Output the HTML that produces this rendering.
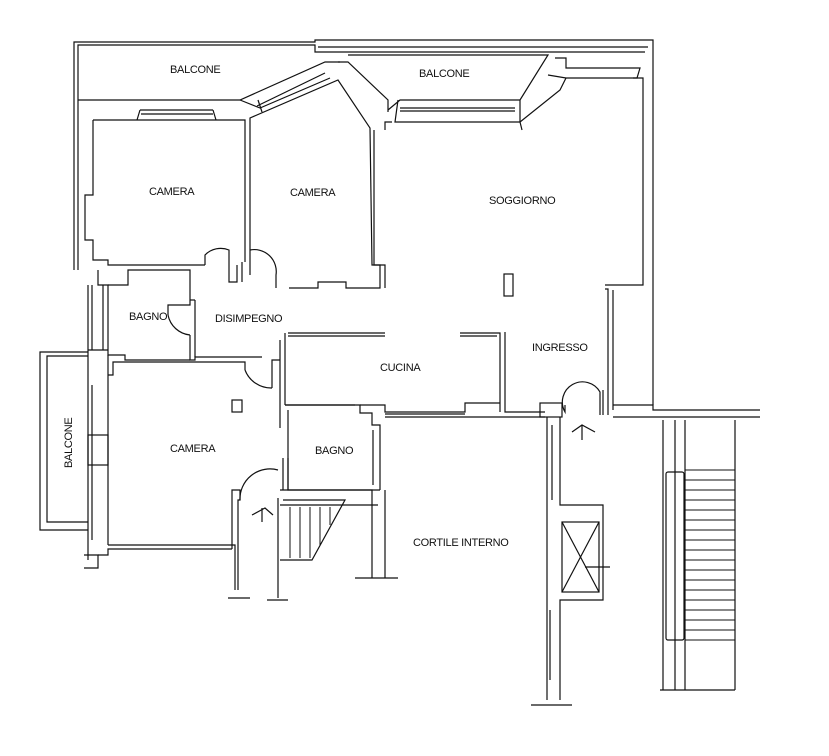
<!DOCTYPE html>
<html><head><meta charset="utf-8"><style>
html,body{margin:0;padding:0;background:#fff;}
svg{display:block}
text{font-family:"Liberation Sans",Arial,sans-serif;font-size:11px;fill:#111;letter-spacing:-0.3px}
</style></head><body>
<svg width="829" height="756" viewBox="0 0 829 756" xmlns="http://www.w3.org/2000/svg">
<g fill="none" stroke="#111" stroke-width="1.2">
<!-- top outer wall -->
<polyline points="74,270 74,42 315,42 315,40 653,40 653,405"/>
<polyline points="78,270 78,45 315,45 315,52 645,52"/>
<line x1="318" y1="47" x2="648" y2="47"/>
<!-- balcone 1 -->
<polyline points="78,100 240,100 325,62 340,62"/>
<polyline points="240,100 260,108 330,78"/>
<line x1="258" y1="100" x2="262" y2="112"/>
<line x1="257" y1="106" x2="325" y2="73"/>
<!-- camera1 -->
<polyline points="93,120 245,120 245,262"/>
<polyline points="93,120 93,195 85,195 85,240 93,240 93,260 108,260 108,265 205,265"/>
<polyline points="140,110 137,120"/><polyline points="213,110 216,120"/>
<line x1="140" y1="110" x2="213" y2="110"/><line x1="141" y1="114" x2="213" y2="114"/>
<!-- camera2 -->
<polyline points="250,275 250,118 338,80 370,128 372,265 380,265 380,288 346,288 346,282 318,282 318,288 289,288"/>
<polyline points="338,62 348,62 388,100 388,112"/>
<!-- balcone 2 -->
<polyline points="348,55 548,55 520,100 400,100 388,110"/>
<polyline points="398,100 395,122 520,122 520,100"/>
<line x1="400" y1="108" x2="515" y2="108"/><line x1="400" y1="111" x2="515" y2="111"/>
<polyline points="555,58 566,58 566,68 640,68 637,78 566,78 548,75"/>
<polyline points="566,78 560,90 520,122 522,130"/>
<!-- soggiorno -->
<polyline points="374,130 374,265 385,265 385,288"/>
<polyline points="385,130 385,122 392,122"/>
<polyline points="633,78 643,78 643,285 605,285"/>
<polyline points="605,289 608,289 608,415"/>
<line x1="613" y1="290" x2="613" y2="410"/>
<rect x="504" y="274" width="9" height="22"/>
<!-- doors disimpegno -->
<path d="M205,265 L205,255 A22,22 0 0 1 229,250 L229,282 L237,282 L237,265"/>
<path d="M250,250 A22,22 0 0 1 276,275 L276,288"/>
<line x1="242" y1="262" x2="242" y2="282"/>
<!-- bagno1 -->
<polyline points="98,270 98,285 108,285 108,355 125,355 125,360 190,360"/>
<polyline points="108,285 128,285 128,270 190,270 190,305 168,305 168,315"/>
<path d="M168,315 A25,25 0 0 0 190,335"/>
<polyline points="190,335 190,360 195,360 195,357 262,357"/>
<line x1="195" y1="300" x2="195" y2="357"/>
<line x1="190" y1="300" x2="195" y2="300"/>
<!-- left wall vertical stack -->
<line x1="88" y1="285" x2="88" y2="560"/><line x1="92" y1="285" x2="92" y2="350"/>
<line x1="103" y1="285" x2="103" y2="350"/><line x1="108" y1="355" x2="108" y2="545"/>
<polyline points="88,350 108,350"/>
<rect x="88" y="435" width="20" height="30"/>
<line x1="92" y1="385" x2="92" y2="540"/>
<!-- left balcone -->
<polyline points="88,352 40,352 40,530 88,530"/>
<polyline points="88,356 47,356 47,522 88,522"/>
<!-- camera3 -->
<polyline points="108,375 113,375 113,362 245,362 245,370"/>
<path d="M245,370 A28,28 0 0 0 272,388"/>
<polyline points="272,388 272,360 280,360"/>
<line x1="280" y1="340" x2="280" y2="428"/>
<line x1="285" y1="333" x2="285" y2="405"/>
<polyline points="108,545 235,545 235,590"/>
<polyline points="98,555 108,555 108,549 232,549"/>
<polyline points="84,568 98,568 98,555 84,555"/>
<polyline points="232,549 232,490 240,490 240,500 238,500 238,590"/>
<rect x="232" y="400" width="10" height="12"/>
<path d="M240,500 A30,30 0 0 1 278,470"/>
<polyline points="252,515 265,508 273,515"/><line x1="262" y1="508" x2="262" y2="522"/>
<line x1="228" y1="598" x2="250" y2="598"/>
<!-- bagno2 -->
<polyline points="285,405 360,405 360,413 372,413 372,425 380,425 380,490"/>
<polyline points="288,410 288,490 380,490"/>
<line x1="283" y1="458" x2="283" y2="490"/><line x1="288" y1="458" x2="288" y2="490"/>
<line x1="373" y1="430" x2="373" y2="485"/>
<!-- stairs -->
<polyline points="278,498 278,598"/><polyline points="283,500 345,500 312,560 280,560"/>
<polyline points="280,490 372,490 372,578"/>
<polyline points="385,490 385,578"/>
<line x1="280" y1="505" x2="378" y2="505"/>
<g stroke-width="1"><line x1="290" y1="507" x2="290" y2="558"/><line x1="300" y1="507" x2="300" y2="558"/><line x1="310" y1="507" x2="310" y2="558"/><line x1="320" y1="507" x2="320" y2="545"/><line x1="330" y1="507" x2="330" y2="525"/></g>
<line x1="267" y1="600" x2="288" y2="600"/><line x1="355" y1="578" x2="398" y2="578"/>
<!-- cucina -->
<polyline points="288,333 385,333"/><polyline points="460,333 500,333 500,412"/>
<line x1="288" y1="336" x2="385" y2="336"/><line x1="460" y1="336" x2="497" y2="336"/>
<polyline points="505,332 505,412 545,412"/>
<polyline points="285,405 355,405"/>
<polyline points="360,405 385,405 385,412 465,412 465,403 500,403"/>
<line x1="385" y1="417" x2="545" y2="417"/><line x1="385" y1="414" x2="465" y2="414"/>
<!-- ingresso bottom & door -->
<rect x="540" y="403" width="22" height="14"/>
<path d="M565,405 L565,412 A15,15 0 0 1 600,392 L600,415"/>
<line x1="603" y1="390" x2="603" y2="415"/>
<polyline points="572,432 582,425 595,432"/><line x1="582" y1="425" x2="582" y2="440"/>
<polyline points="613,405 653,405 653,410 760,410"/>
<polyline points="613,417 760,417"/>
<!-- elevator column -->
<polyline points="547,417 547,700"/><polyline points="560,417 560,505 603,505 603,600 560,600 560,700"/>
<line x1="552" y1="425" x2="552" y2="500"/><line x1="550" y1="610" x2="550" y2="680"/>
<rect x="562" y="522" width="37" height="70"/>
<line x1="562" y1="522" x2="599" y2="592"/><line x1="599" y1="522" x2="562" y2="592"/>
<line x1="585" y1="567" x2="610" y2="567"/>
<line x1="531" y1="705" x2="572" y2="705"/>
<!-- right stair -->
<line x1="663" y1="420" x2="663" y2="690"/><line x1="675" y1="420" x2="675" y2="690"/>
<line x1="685" y1="420" x2="685" y2="690"/><line x1="735" y1="420" x2="735" y2="690"/>
<rect x="666" y="472" width="18" height="168" rx="2"/>
<line x1="660" y1="690" x2="735" y2="690"/>
<g stroke-width="1">
<line x1="685" y1="470" x2="735" y2="470"/><line x1="685" y1="480" x2="735" y2="480"/><line x1="685" y1="490" x2="735" y2="490"/><line x1="685" y1="500" x2="735" y2="500"/><line x1="685" y1="510" x2="735" y2="510"/><line x1="685" y1="520" x2="735" y2="520"/><line x1="685" y1="530" x2="735" y2="530"/><line x1="685" y1="540" x2="735" y2="540"/><line x1="685" y1="550" x2="735" y2="550"/><line x1="685" y1="560" x2="735" y2="560"/><line x1="685" y1="570" x2="735" y2="570"/><line x1="685" y1="580" x2="735" y2="580"/><line x1="685" y1="590" x2="735" y2="590"/><line x1="685" y1="600" x2="735" y2="600"/><line x1="685" y1="610" x2="735" y2="610"/><line x1="685" y1="620" x2="735" y2="620"/><line x1="685" y1="630" x2="735" y2="630"/><line x1="685" y1="640" x2="735" y2="640"/>
</g>
</g>
<text x="170" y="73">BALCONE</text>
<text x="419" y="77">BALCONE</text>
<text x="149" y="195">CAMERA</text>
<text x="290" y="196">CAMERA</text>
<text x="489" y="204">SOGGIORNO</text>
<text x="129" y="320">BAGNO</text>
<text x="215" y="322">DISIMPEGNO</text>
<text x="532" y="351">INGRESSO</text>
<text x="380" y="371">CUCINA</text>
<text x="170" y="452">CAMERA</text>
<text x="315" y="454">BAGNO</text>
<text x="413" y="546">CORTILE INTERNO</text>
<text transform="translate(72,468) rotate(-90)">BALCONE</text>
</svg>
</body></html>
